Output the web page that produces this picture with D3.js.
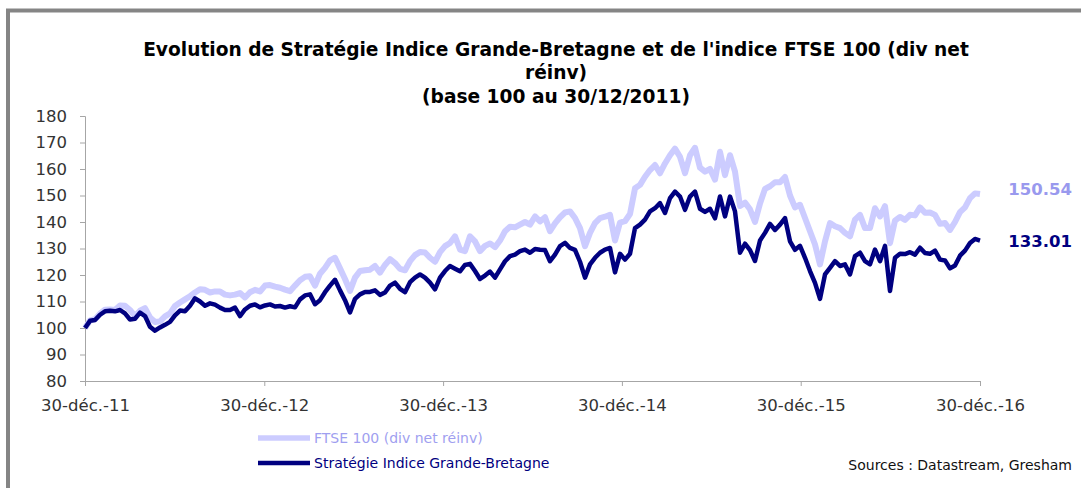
<!DOCTYPE html>
<html>
<head>
<meta charset="utf-8">
<script src="https://cdn.jsdelivr.net/npm/d3@7"></script>
<style>
  body { margin: 0; background: #fff; }
  svg { display: block; }
</style>
</head>
<body>
<svg id="chart" width="1081" height="488"></svg>
<script>
const startDate = new Date(2011, 11, 30);
const endDate = new Date(2016, 11, 30);

// FTSE 100 (div net réinv), base 100
const ftse = [
  100, 102.9, 103.3, 105.4, 106.9, 107, 106.8, 108.5, 108.4, 106.8,
  104.5, 106.5, 107.5, 104, 102.3, 102.5, 104.4, 105.5, 108.3, 109.6,
  110.8, 112, 113.4, 114.6, 114.4, 113.4, 113.8, 113.8, 112.6, 112.3,
  112.6, 113.2, 111.5, 113.5, 114.4, 113.8, 116, 116.2, 115.6, 115.2,
  114.5, 113.9, 116, 118, 119.3, 119.5, 116, 120.5, 122.7, 125.5,
  126.5, 122.5, 118.5, 114, 119, 121.5, 121.8, 122, 123.4, 120.9,
  123.8, 126, 124.5, 122.3, 121.8, 125.2, 127.5, 128.7, 128.5, 126.5,
  125, 128.6, 130.9, 132.1, 134.6, 129.6, 129, 134.6, 132.7, 129,
  131, 131.9, 130.5, 133, 136.5, 138.2, 138, 139, 140, 139,
  142.1, 140.2, 141.8, 136.5, 139.5, 141.8, 143.6, 144, 141.5, 137.7,
  130.9, 135.9, 139.6, 141.5, 142, 142.7, 133, 139.8, 140.3, 143,
  152.7, 154, 157.1, 159.6, 161.5, 158.4, 162.1, 165.2, 167.7, 164.6,
  158.4, 165.2, 168, 160.5, 159, 160, 156, 166.5, 157.7, 165.2,
  159, 146, 147.3, 144.8, 140, 147, 152.5, 153.5, 155, 155,
  157, 150, 145.5, 146.5, 141.5, 136.5, 131.5, 124, 132.7, 139.6,
  138.4, 137.7, 135.9, 134.6, 140.9, 142.7, 137.7, 137.7, 145.2, 142.1,
  146, 132, 140.5, 141.9, 140.8, 142.7, 142.5, 145.5, 143.5, 143.6,
  142.7, 139.3, 139.6, 137, 140, 143.7, 145.5, 149, 150.8, 150.54
];

// Stratégie Indice Grande-Bretagne, base 100
const strategie = [
  100, 102.7, 103, 105, 106.3, 106.5, 106.3, 106.8, 105.5, 103.2,
  103.5, 105.8, 104.5, 100.5, 99, 100.2, 101.2, 102.3, 104.8, 106.6,
  106.3, 108.4, 111.2, 110, 108.4, 109.3, 108.8, 107.7, 106.8, 106.8,
  107.7, 104.5, 107, 108.4, 108.9, 107.8, 108.5, 108.9, 108.1, 108.3,
  107.7, 108.2, 107.8, 110.8, 112.3, 112.7, 109, 110.5, 113.5, 116,
  118.2, 114.2, 110.5, 105.9, 111, 112.7, 113.6, 113.6, 114.2, 112.5,
  113.4, 116, 117.1, 114.8, 113.5, 117.3, 119, 120.2, 119, 117.1,
  114.6, 119, 121.5, 123.4, 122.4, 121.4, 123.8, 124.2, 121.5, 118.5,
  119.8, 121.3, 119, 122.1, 125.2, 127.1, 127.7, 129, 129.6, 128.4,
  129.8, 129.5, 129.4, 125.2, 127.7, 130.9, 132.1, 130.2, 129.5, 125,
  119, 124, 126.5, 128.4, 129.6, 130.2, 121, 128, 125.8, 128,
  137.7, 139, 140.9, 144, 145.2, 147.1, 143.4, 149, 151.5, 149.6,
  144.6, 149.6, 151.5, 145, 143.8, 145, 141.4, 149.6, 142.1, 149.6,
  144, 128.4, 131.8, 129.4, 125.3, 133, 135.9, 139.3, 137, 139,
  141.5, 132.7, 129.5, 131, 126.5, 121.5, 117, 111, 120.2, 122.7,
  125.2, 123.4, 124, 120.2, 127.1, 128.4, 125.2, 124, 129.6, 125.2,
  131, 114, 126.5, 128, 127.9, 128.6, 127.7, 130.3, 128.3, 128,
  129.2, 125.8, 125.5, 122.5, 123.6, 127.3, 129.2, 132.1, 133.6, 133.01
];

const xTickDates = [
  new Date(2011, 11, 30), new Date(2012, 11, 30), new Date(2013, 11, 30),
  new Date(2014, 11, 30), new Date(2015, 11, 30), new Date(2016, 11, 30)
];
const xTickLabels = ["30-déc.-11", "30-déc.-12", "30-déc.-13", "30-déc.-14", "30-déc.-15", "30-déc.-16"];
const yTicks = [80, 90, 100, 110, 120, 130, 140, 150, 160, 170, 180];

const titleLines = [
  "Evolution de Stratégie Indice Grande-Bretagne et de l'indice FTSE 100 (div net",
  "réinv)",
  "(base 100 au 30/12/2011)"
];
const seriesNames = ["FTSE 100 (div net réinv)", "Stratégie Indice Grande-Bretagne"];
const colorLight = "#ccccff";
const colorDark = "#000080";
const FONT = "'DejaVu Sans', Verdana, sans-serif";

const svg = d3.select("#chart");

// frame
svg.append("rect")
  .attr("x", 8).attr("y", 10.5)
  .attr("width", 1100).attr("height", 500)
  .attr("fill", "none")
  .attr("stroke", "#858585")
  .attr("stroke-width", 4);

// title
const title = svg.append("g")
  .attr("font-family", FONT)
  .attr("font-weight", "bold")
  .attr("fill", "#000")
  .attr("text-anchor", "middle");
const titleY = [56, 79, 103];
const tEls = titleLines.map((t, i) => title.append("text")
  .attr("x", 556).attr("y", titleY[i])
  .attr("font-size", 17).text(t));
const w0 = tEls[0].node().getComputedTextLength();
const fs = 17 * 826 / w0;
tEls.forEach(e => e.attr("font-size", fs));

const dates = ftse.map((_, i) => d3.interpolateDate(startDate, endDate)(i / (ftse.length - 1)));

const x = d3.scaleTime().domain([startDate, endDate]).range([85, 980]);
const y = d3.scaleLinear().domain([80, 180]).range([381, 116]);

// axes
const yAxis = svg.append("g")
  .attr("transform", "translate(85,0)")
  .call(d3.axisLeft(y).tickValues(yTicks).tickSize(5).tickPadding(13));
const xAxis = svg.append("g")
  .attr("transform", "translate(0,381)")
  .call(d3.axisBottom(x).tickValues(xTickDates)
    .tickFormat((d, i) => xTickLabels[i]).tickSize(5).tickPadding(13));

[xAxis, yAxis].forEach(a => {
  a.select(".domain").attr("stroke", "#a6a6a6");
  a.selectAll(".tick line").attr("stroke", "#a6a6a6");
  a.selectAll(".tick text")
    .attr("fill", "#333")
    .style("font-family", FONT)
    .style("font-size", "16.5px");
});

// lines
const line = d3.line()
  .x((d, i) => x(dates[i]))
  .y(d => y(d));

svg.append("path")
  .datum(ftse)
  .attr("fill", "none")
  .attr("stroke", colorLight)
  .attr("stroke-width", 6)
  .attr("stroke-linejoin", "round")
  .attr("d", line);

svg.append("path")
  .datum(strategie)
  .attr("fill", "none")
  .attr("stroke", colorDark)
  .attr("stroke-width", 4.5)
  .attr("stroke-linejoin", "round")
  .attr("d", line);

// end values
const endG = svg.append("g")
  .attr("font-family", FONT)
  .attr("font-weight", "bold")
  .attr("font-size", 16.5)
  .attr("text-anchor", "end");
endG.append("text")
  .attr("x", 1072).attr("y", 195)
  .attr("fill", "#9999ee")
  .text(d3.format(".2f")(ftse[ftse.length - 1]));
endG.append("text")
  .attr("x", 1072).attr("y", 247)
  .attr("fill", colorDark)
  .text(d3.format(".2f")(strategie[strategie.length - 1]));

// legend
const legend = svg.append("g")
  .attr("font-family", FONT)
  .attr("font-size", 14);
[[seriesNames[0], colorLight, "#9f9ff0", 438, 5.5], [seriesNames[1], colorDark, colorDark, 463, 4.5]]
  .forEach(([name, stroke, txt, ly, sw]) => {
    legend.append("line")
      .attr("x1", 258).attr("x2", 310)
      .attr("y1", ly).attr("y2", ly)
      .attr("stroke", stroke).attr("stroke-width", sw);
    legend.append("text")
      .attr("x", 314).attr("y", ly + 5)
      .attr("fill", txt)
      .text(name);
  });

svg.append("text")
  .attr("x", 1072).attr("y", 470)
  .attr("text-anchor", "end")
  .attr("font-family", FONT)
  .attr("font-size", 14)
  .attr("fill", "#111")
  .text("Sources : Datastream, Gresham");
</script>
</body>
</html>
